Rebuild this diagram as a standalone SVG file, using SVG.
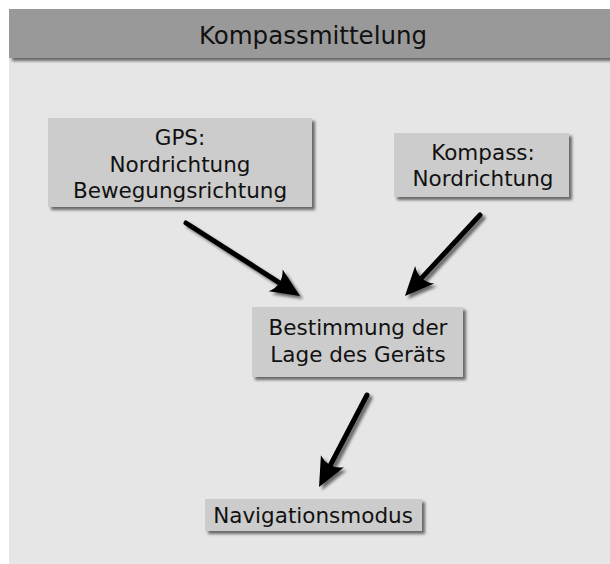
<svg xmlns="http://www.w3.org/2000/svg" width="610" height="564" viewBox="0 0 610 564">
  <style>
    .bg { fill: #e6e6e6; }
    .hdr { fill: #999999; }
    .box { fill: #cccccc; }
    .t { font-family: "DejaVu Sans", "Liberation Sans", sans-serif; font-size: 21.5px; fill: #111111; text-anchor: middle; }
    .title { font-family: "DejaVu Sans", "Liberation Sans", sans-serif; font-size: 24.5px; fill: #111111; text-anchor: middle; }
    .conn { fill: none; stroke: #000000; stroke-width: 5; stroke-linecap: round; }
  </style>
  <defs>
    <filter id="sh" x="-20%" y="-20%" width="150%" height="160%">
      <feGaussianBlur in="SourceAlpha" stdDeviation="1.6"/>
      <feOffset dx="3" dy="3" result="b"/>
      <feComponentTransfer><feFuncA type="linear" slope="0.55"/></feComponentTransfer>
      <feMerge><feMergeNode/><feMergeNode in="SourceGraphic"/></feMerge>
    </filter>
    <marker id="ah" markerUnits="userSpaceOnUse" markerWidth="60" markerHeight="60" refX="0" refY="0" orient="auto" overflow="visible">
      <path d="M22,0 L-7,-13 Q2,0 -7,13 Z" fill="#000000"/>
    </marker>
  </defs>

  <rect class="bg" x="9" y="9" width="601" height="555"/>
  <g id="header" filter="url(#sh)">
    <rect class="hdr" x="9" y="9" width="604" height="49"/>
  </g>
  <text class="title" x="313" y="44">Kompassmittelung</text>

  <g id="connectors" filter="url(#sh)">
    <path class="conn" d="M186,223 L281.5,284.1" marker-end="url(#ah)"/>
    <path class="conn" d="M480,215 L419.9,279.9" marker-end="url(#ah)"/>
    <path class="conn" d="M367,395 L329.2,467.5" marker-end="url(#ah)"/>
  </g>

  <g id="gps">
    <rect class="box" x="48" y="118" width="264" height="89" filter="url(#sh)"/>
    <text class="t" x="180" y="145">GPS:</text>
    <text class="t" x="180" y="171.5">Nordrichtung</text>
    <text class="t" x="180" y="198">Bewegungsrichtung</text>
  </g>

  <g id="kompass">
    <rect class="box" x="394" y="133" width="175" height="64" filter="url(#sh)"/>
    <text class="t" x="483" y="160">Kompass:</text>
    <text class="t" x="483" y="186">Nordrichtung</text>
  </g>

  <g id="bestimmung">
    <rect class="box" x="252" y="307" width="211" height="70" filter="url(#sh)"/>
    <text class="t" x="358" y="335">Bestimmung der</text>
    <text class="t" x="358" y="362">Lage des Geräts</text>
  </g>

  <g id="navigation">
    <rect class="box" x="205" y="499" width="217" height="32" filter="url(#sh)"/>
    <text class="t" x="313" y="523">Navigationsmodus</text>
  </g>
</svg>
